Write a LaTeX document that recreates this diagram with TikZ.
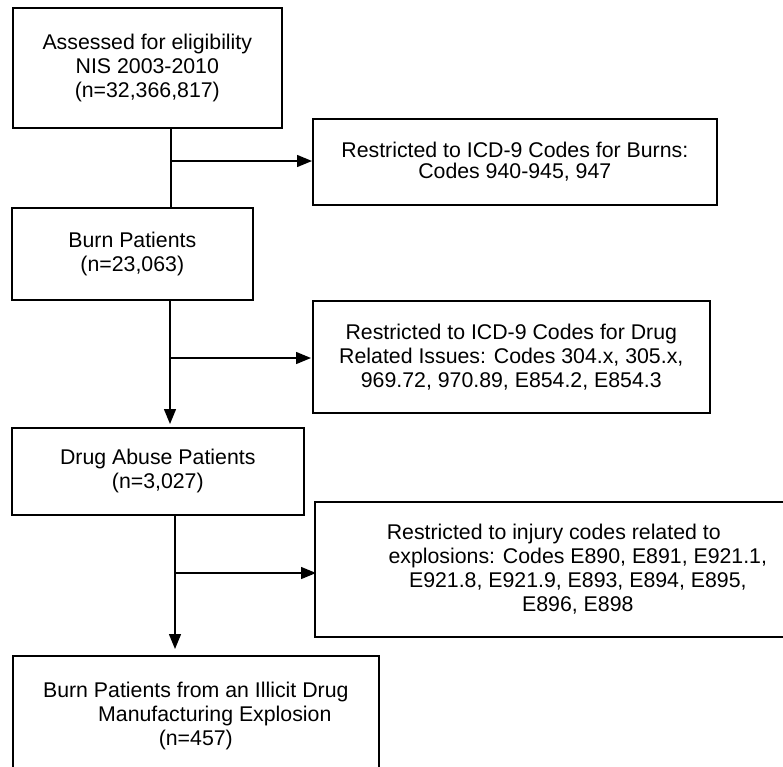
\documentclass[tikz,border=0pt]{standalone}
\usepackage{fontspec}
\setmainfont{Liberation Sans}
\usetikzlibrary{arrows.meta}
\begin{document}
\begin{tikzpicture}
[x=1pt,y=-1pt,
 stage/.style={draw,line width=1.6pt,anchor=north west,align=center,inner sep=0pt,
   font=\fontsize{21.3}{24}\selectfont},
 link/.style={line width=1.4pt},
 arr/.style={line width=1.4pt,-{Triangle[length=15pt,width=12pt]}}]
   \useasboundingbox (0,0) rectangle (783,766);
   \clip (0,0) rectangle (783,766);
   % main column
   \node[stage,minimum width=269pt,minimum height=120pt] (elig) at (12,7)
      {Assessed for eligibility\\NIS 2003-2010\\(n=32,366,817)};
   \node[stage,minimum width=241pt,minimum height=92pt] (burn) at (11,207)
      {Burn Patients\\(n=23,063)};
   \node[stage,minimum width=292pt,minimum height=87pt] (drug) at (11,427)
      {Drug Abuse Patients\\(n=3,027)};
   \node[stage,minimum width=366pt,minimum height=120pt] (expl) at (12,655)
      {Burn Patients from an Illicit Drug\\\hspace*{38pt}Manufacturing Explosion\\(n=457)};
   % restrictions
   \node[stage,minimum width=404pt,minimum height=86pt,
         font=\fontsize{21.3}{21.5}\selectfont] (rburn) at (312,118)
      {Restricted to ICD-9 Codes for Burns:\\Codes 940-945, 947};
   \node[stage,minimum width=397pt,minimum height=112pt] (rdrug) at (312,300)
      {Restricted to ICD-9 Codes for Drug\\Related Issues: Codes 304.x, 305.x,\\969.72, 970.89, E854.2, E854.3};
   \node[stage,minimum width=526pt,minimum height=135pt] (rexpl) at (314,501)
      {\makebox[382pt][l]{Restricted to injury codes related to}\\explosions: Codes E890, E891, E921.1,\\E921.8, E921.9, E893, E894, E895,\\E896, E898};
   % junctions
   \coordinate (j1) at (171,161);
   \coordinate (j2) at (170,358);
   \coordinate (j3) at (175,573);
   \draw[link] (elig.south -| j1) -- (burn.north -| j1);
   \draw[arr,shorten >=3pt] (burn.south -| j2) -- (drug.north -| j2);
   \draw[arr,shorten >=6pt] (drug.south -| j3) -- (expl.north -| j3);
   \draw[arr] (j1) -- (rburn.west |- j1);
   \draw[arr,shorten >=1pt] (j2) -- (rdrug.west |- j2);
   \draw[arr,shorten >=-2pt] (j3) -- (rexpl.west |- j3);
\end{tikzpicture}
\end{document}
